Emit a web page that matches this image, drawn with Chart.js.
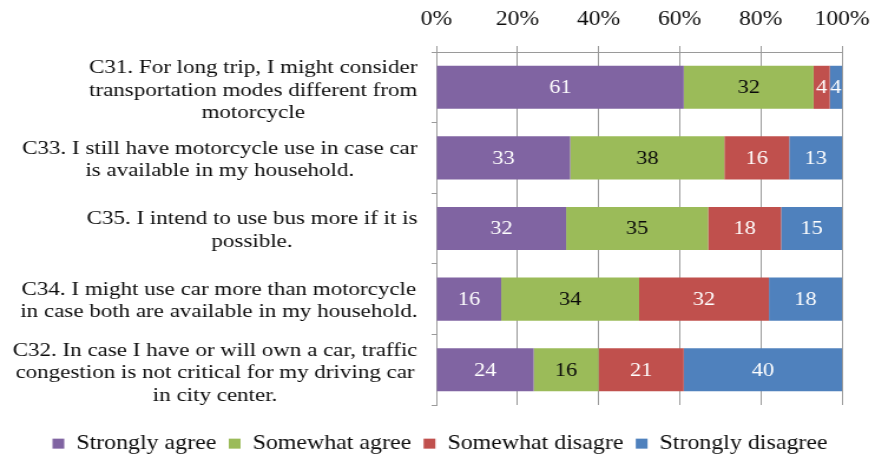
<!DOCTYPE html>
<html>
<head>
<meta charset="utf-8">
<script src="https://cdn.jsdelivr.net/npm/chart.js@4"></script>
<style>
  html, body { margin: 0; padding: 0; background: #fff; overflow: hidden; }
  /* chart is drawn narrow and widened, which gives the wide serif lettering */
  #wrap { width: 742px; height: 456px; transform: scaleX(1.1792); transform-origin: 0 0; }
</style>
</head>
<body>
<div id="wrap"><canvas id="myChart" width="742" height="456"></canvas></div>
<script>
// survey statements, top to bottom
const questions = [
  ['C31. For long trip, I might consider', 'transportation modes different from', 'motorcycle'],
  ['C33. I still have motorcycle use in case car', 'is available in my household.'],
  ['C35. I intend to use bus more if it is', 'possible.'],
  ['C34. I might use car more than motorcycle', 'in case both are available in my household.'],
  ['C32. In case I have or will own a car, traffic', 'congestion is not critical for my driving car', 'in city center.']
];

// answer shares (%)
const stronglyAgree    = [61, 33, 32, 16, 24];
const somewhatAgree    = [32, 38, 35, 34, 16];
const somewhatDisagree = [4, 16, 18, 32, 21];
const stronglyDisagree = [4, 13, 15, 18, 40];

const seriesNames = ['Strongly agree', 'Somewhat agree', 'Somewhat disagre', 'Strongly disagree'];
const seriesColors = ['#8064A2', '#9BBB59', '#C0504D', '#4F81BD'];
const valueColors = ['#ffffff', '#0a0a0a', '#ffffff', '#ffffff'];

const xTicks = [0, 20, 40, 60, 80, 100];

const serif = '"Liberation Serif", "Times New Roman", serif';
const gridGray = '#9a9a9a';
const textColor = '#0d0d0d';

// question text: each block is centred on its own widest line
const questionLabels = {
  id: 'questionLabels',
  afterDraw(chart) {
    const ctx = chart.ctx;
    const yScale = chart.scales.y;
    ctx.save();
    ctx.font = '19.5px ' + serif;
    ctx.fillStyle = textColor;
    ctx.textAlign = 'center';
    ctx.textBaseline = 'middle';
    questions.forEach((lines, i) => {
      const y = yScale.getPixelForTick(i) + 2 + (lines.length - 2) * 1.5;
      const widest = Math.max(...lines.map(l => ctx.measureText(l).width));
      const cx = chart.chartArea.left - 16 - widest / 2;
      lines.forEach((line, j) => {
        ctx.fillText(line, cx, y + (j - (lines.length - 1) / 2) * 22.5);
      });
    });
    ctx.restore();
  }
};

// numbers written in the middle of the visible part of each bar
const barValues = {
  id: 'barValues',
  afterDatasetsDraw(chart) {
    const ctx = chart.ctx;
    const area = chart.chartArea;
    ctx.save();
    ctx.font = '19px ' + serif;
    ctx.textAlign = 'center';
    ctx.textBaseline = 'middle';
    chart.data.datasets.forEach((ds, di) => {
      chart.getDatasetMeta(di).data.forEach((bar, i) => {
        const lo = Math.max(Math.min(bar.x, bar.base), area.left);
        const hi = Math.min(Math.max(bar.x, bar.base), area.right);
        ctx.fillStyle = valueColors[di];
        ctx.fillText(ds.data[i], (lo + hi) / 2, bar.y + 1);
      });
    });
    ctx.restore();
  }
};

const series = [stronglyAgree, somewhatAgree, somewhatDisagree, stronglyDisagree];

const config = {
  type: 'bar',
  data: {
    labels: questions,
    datasets: series.map((vals, k) => ({
      label: seriesNames[k],
      data: vals,
      backgroundColor: seriesColors[k],
      borderWidth: 0,
      barPercentage: 0.61,
      categoryPercentage: 1
    }))
  },
  options: {
    indexAxis: 'y',
    responsive: false,
    animation: false,
    layout: { padding: { left: 34, right: 28, top: 0, bottom: 0 } },
    scales: {
      x: {
        position: 'top',
        stacked: true,
        min: 0,
        max: 100,
        afterBuildTicks: (scale) => { scale.ticks = xTicks.map(v => ({ value: v })); },
        afterFit: (scale) => {
          scale.height = 52;
          scale.paddingLeft = 0;
          scale.paddingRight = 0;
        },
        ticks: {
          callback: v => v + '%',
          font: { family: serif, size: 20 },
          color: textColor,
          padding: 14,
          maxRotation: 0
        },
        grid: { color: gridGray, tickLength: 6, lineWidth: 1 },
        border: { color: gridGray }
      },
      y: {
        stacked: true,
        afterFit: (scale) => { scale.width = 336; },
        ticks: { display: false },
        grid: { drawOnChartArea: false, color: gridGray, tickLength: 4 },
        border: { color: gridGray }
      }
    },
    plugins: {
      legend: {
        position: 'bottom',
        align: 'start',
        maxHeight: 51,
        // empty title only pushes the legend row down
        title: { display: true, text: '', padding: 0, font: { size: 15 } },
        labels: {
          font: { family: serif, size: 20.3 },
          color: textColor,
          boxWidth: 10,
          boxHeight: 10,
          padding: 10.5
        }
      },
      tooltip: { enabled: false }
    }
  },
  plugins: [barValues, questionLabels]
};

const myChart = new Chart(document.getElementById('myChart'), config);
</script>
</body>
</html>
